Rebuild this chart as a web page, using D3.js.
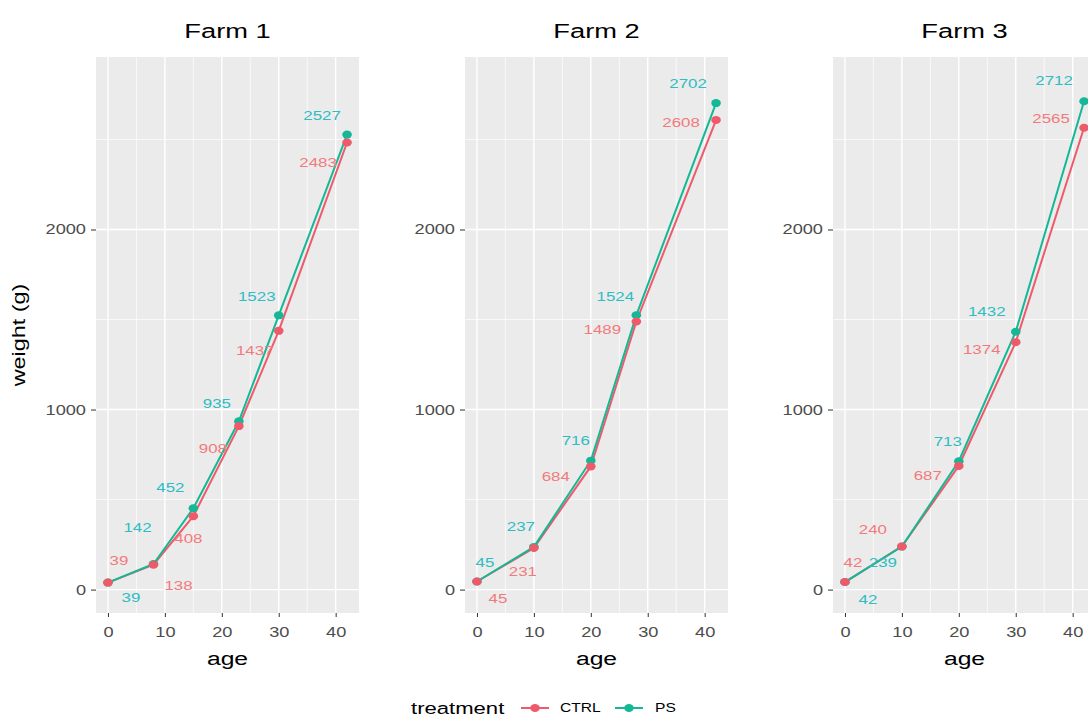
<!DOCTYPE html>
<html>
<head>
<meta charset="utf-8">
<script src="https://cdn.jsdelivr.net/npm/d3@7/dist/d3.min.js"></script>
<style>
  html, body { margin: 0; padding: 0; background: #fff; }
  svg { display: block; font-family: "Liberation Sans", Arial, Helvetica, sans-serif; }
</style>
</head>
<body>
<svg id="chart" width="1088" height="726"></svg>
<script>
// ---- data -------------------------------------------------------------
const farms = ["Farm 1", "Farm 2", "Farm 3"];
const treatments = ["CTRL", "PS"];
const ages = [
  [0, 8, 15, 23, 30, 42],
  [0, 10, 20, 28, 42],
  [0, 10, 20, 30, 42]
];
const ctrlWeight = [
  [39, 138, 408, 908, 1437, 2483],
  [45, 231, 684, 1489, 2608],
  [42, 240, 687, 1374, 2565]
];
const psWeight = [
  [39, 142, 452, 935, 1523, 2527],
  [45, 237, 716, 1524, 2702],
  [42, 239, 713, 1432, 2712]
];
const xTicks = [0, 10, 20, 30, 40];
const yTicks = [0, 1000, 2000];
const xMinor = [5, 15, 25, 35];
const yMinor = [500, 1500, 2500];

// ---- layout -------------------------------------------------------------
const SX = 1.3;                       // horizontal glyph stretch
const panelLeft = [96, 465, 833];
const panelW = 263;
const panelTop = 57, panelBottom = 613;
const xDomain = [-2.1, 44.1];
const yDomain = [-130, 2958];
const colors = { CTRL: "#EF5A6B", PS: "#14B896" };
const labelColors = { CTRL: "#F27A7C", PS: "#2DBDC3" };

// label offsets (px) from each point, repelled away from the lines
const ctrlNudge = [
  [[11, -22], [25, 21], [-5, 22], [-26, 22], [-24, 20], [-29, 20]],
  [[21, 17], [-11, 23], [-35, 10], [-34, 8], [-35, 2]],
  [[8, -20], [-29, -17], [-31, 10], [-34, 7], [-33, -9]]
];
const psNudge = [
  [[23, 15], [-16, -37], [-23, -21], [-22, -18], [-22, -19], [-25, -19]],
  [[8, -19], [-13, -20], [-15, -20], [-21, -19], [-28, -20]],
  [[23, 17], [-19, 16], [-11, -20], [-29, -20], [-30, -21]]
];

const svg = d3.select("#chart");

function addText(parent, x, y, s, o) {
  return parent.append("text")
    .attr("transform", `translate(${x},${y})${o.rotate ? ` rotate(${o.rotate})` : ""} scale(${SX},1)`)
    .attr("text-anchor", o.anchor || "middle")
    .attr("dy", o.dy || "0")
    .style("font-size", o.size + "px")
    .attr("fill", o.color || "#000")
    .text(s);
}

const y = d3.scaleLinear().domain(yDomain).range([panelBottom, panelTop]);

farms.forEach((farm, i) => {
  const g = svg.append("g").attr("transform", `translate(${panelLeft[i]},0)`);
  const x = d3.scaleLinear().domain(xDomain).range([0, panelW]);

  // panel background
  g.append("rect")
    .attr("x", 0).attr("y", panelTop)
    .attr("width", panelW).attr("height", panelBottom - panelTop)
    .attr("fill", "#EBEBEB");

  // grid
  g.selectAll(".vminor").data(xMinor).join("line")
    .attr("x1", d => x(d)).attr("x2", d => x(d))
    .attr("y1", panelTop).attr("y2", panelBottom)
    .attr("stroke", "#fff").attr("stroke-width", 0.7);
  g.selectAll(".hminor").data(yMinor).join("line")
    .attr("x1", 0).attr("x2", panelW)
    .attr("y1", d => y(d)).attr("y2", d => y(d))
    .attr("stroke", "#fff").attr("stroke-width", 0.7);
  g.selectAll(".vmajor").data(xTicks).join("line")
    .attr("x1", d => x(d)).attr("x2", d => x(d))
    .attr("y1", panelTop).attr("y2", panelBottom)
    .attr("stroke", "#fff").attr("stroke-width", 1.4);
  g.selectAll(".hmajor").data(yTicks).join("line")
    .attr("x1", 0).attr("x2", panelW)
    .attr("y1", d => y(d)).attr("y2", d => y(d))
    .attr("stroke", "#fff").attr("stroke-width", 1.4);

  // axes
  const ya = g.append("g")
    .call(d3.axisLeft(y).tickValues(yTicks).tickSize(5).tickPadding(2.7).tickFormat(d3.format("d")));
  ya.select(".domain").remove();
  ya.selectAll("line").attr("stroke", "#333");
  ya.selectAll("text")
    .attr("transform", `scale(${SX},1)`)
    .attr("fill", "#4D4D4D")
    .style("font-size", "14px")
    .style("font-family", null);

  const xa = g.append("g").attr("transform", `translate(0,${panelBottom})`)
    .call(d3.axisBottom(x).tickValues(xTicks).tickSize(4).tickPadding(10).tickFormat(d3.format("d")));
  xa.select(".domain").remove();
  xa.selectAll("line").attr("stroke", "#333");
  xa.selectAll("text")
    .attr("transform", d => `translate(${x(d) * 0},0)`)
    .attr("fill", "#4D4D4D")
    .style("font-size", "14px")
    .style("font-family", null)
    .each(function () {
      const t = d3.select(this);
      t.attr("transform", `scale(${SX},1)`);
    });

  // series
  const series = [
    { key: "CTRL", values: ctrlWeight[i], nudge: ctrlNudge[i] },
    { key: "PS", values: psWeight[i], nudge: psNudge[i] }
  ];
  const line = d3.line().x(d => x(d.age)).y(d => y(d.w));

  series.forEach(s => {
    const pts = ages[i].map((a, j) => ({ age: a, w: s.values[j] }));
    g.append("path")
      .datum(pts)
      .attr("d", line)
      .attr("fill", "none")
      .attr("stroke", colors[s.key])
      .attr("stroke-width", 2);
  });
  [series[1], series[0]].forEach(s => {
    const pts = ages[i].map((a, j) => ({ age: a, w: s.values[j] }));
    g.selectAll(null).data(pts).join("ellipse")
      .attr("cx", d => x(d.age)).attr("cy", d => y(d.w))
      .attr("rx", 4.8).attr("ry", 4)
      .attr("fill", colors[s.key]);
  });
  series.forEach(s => {
    ages[i].forEach((a, j) => {
      const [dx, dy] = s.nudge[j];
      addText(g, x(a) + dx, y(s.values[j]) + dy, String(s.values[j]),
        { size: 13, color: labelColors[s.key], dy: "0.35em" });
    });
  });

  // titles
  addText(g, panelW / 2, 38, farm, { size: 21, color: "#000" });
  addText(g, panelW / 2, 665, "age", { size: 19, color: "#000" });
});

addText(svg, 25, 335, "weight (g)", { size: 18, rotate: -90, color: "#000" });

// legend
const leg = svg.append("g");
const legY = 708;
addText(leg, 411, legY, "treatment", { size: 17, anchor: "start", dy: "0.35em" });
const legendItems = [
  { key: treatments[0], cx: 535, tx: 560 },
  { key: treatments[1], cx: 629, tx: 655 }
];
legendItems.forEach(it => {
  leg.append("line")
    .attr("x1", it.cx - 14).attr("x2", it.cx + 14)
    .attr("y1", legY).attr("y2", legY)
    .attr("stroke", colors[it.key]).attr("stroke-width", 2);
  leg.append("ellipse")
    .attr("cx", it.cx).attr("cy", legY)
    .attr("rx", 4.8).attr("ry", 4)
    .attr("fill", colors[it.key]);
  addText(leg, it.tx, legY, it.key, { size: 12, anchor: "start", color: "#000", dy: "0.35em" });
});
</script>
</body>
</html>
